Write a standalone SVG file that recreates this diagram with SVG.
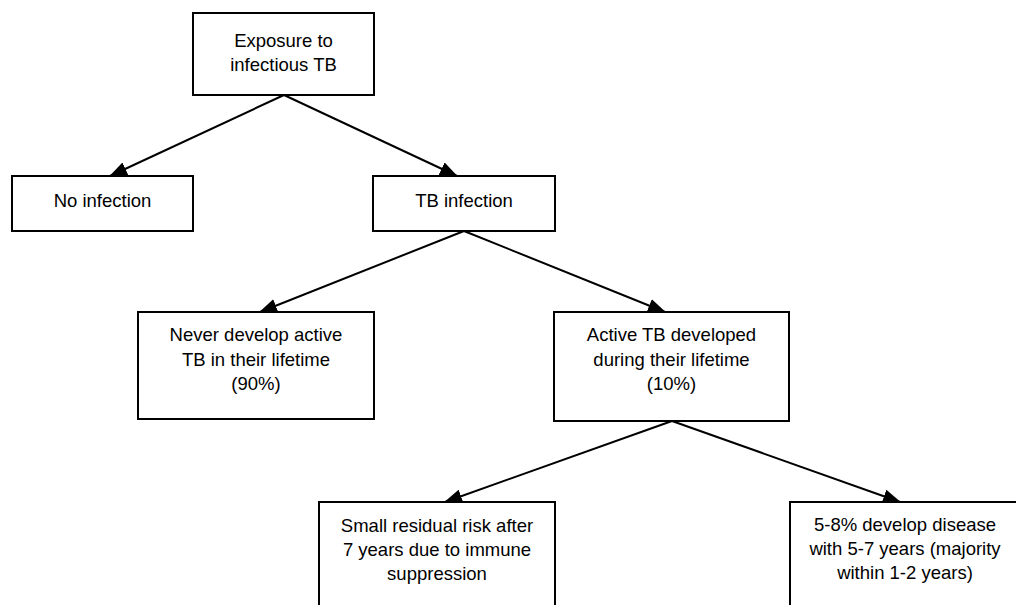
<svg xmlns="http://www.w3.org/2000/svg" width="1016" height="605" viewBox="0 0 1016 605">
<style>
.box{fill:#fff;stroke:#000;stroke-width:2}
.t{font-family:"Liberation Sans",Arial,sans-serif;font-size:18.5px;fill:#000;text-anchor:middle}
.c{stroke:#000;stroke-width:2;fill:none;marker-end:url(#ah)}
</style>
<defs>
<marker id="ah" markerUnits="userSpaceOnUse" markerWidth="18" markerHeight="14" viewBox="0 0 18 14" refX="17" refY="7" orient="auto">
<path d="M0,0 L18,7 L0,14 Z" fill="#000"/>
</marker>
</defs>
<rect width="1016" height="605" fill="#fff"/>
<g id="connectors">
<line class="c" x1="284" y1="95" x2="110" y2="176"/>
<line class="c" x1="284" y1="95" x2="457" y2="176"/>
<line class="c" x1="464" y1="231" x2="260" y2="312"/>
<line class="c" x1="464" y1="231" x2="665" y2="312"/>
<line class="c" x1="672" y1="421" x2="445" y2="502"/>
<line class="c" x1="672" y1="421" x2="900" y2="502"/>
</g>
<g id="exposure">
<rect class="box" x="193" y="13" width="181" height="82"/>
<text class="t" x="283.5" y="47">Exposure to</text>
<text class="t" x="283.5" y="71">infectious TB</text>
</g>
<g id="no-infection">
<rect class="box" x="12" y="176" width="181" height="55"/>
<text class="t" x="102.5" y="207">No infection</text>
</g>
<g id="tb-infection">
<rect class="box" x="373" y="176" width="182" height="55"/>
<text class="t" x="464" y="207">TB infection</text>
</g>
<g id="never-develop">
<rect class="box" x="138" y="312" width="236" height="107"/>
<text class="t" x="256" y="341">Never develop active</text>
<text class="t" x="256" y="366">TB in their lifetime</text>
<text class="t" x="256" y="390">(90%)</text>
</g>
<g id="active-tb">
<rect class="box" x="554" y="312" width="235" height="109"/>
<text class="t" x="671.5" y="341">Active TB developed</text>
<text class="t" x="671.5" y="366">during their lifetime</text>
<text class="t" x="671.5" y="390">(10%)</text>
</g>
<g id="small-residual">
<rect class="box" x="319" y="502" width="236" height="130"/>
<text class="t" x="437" y="532">Small residual risk after</text>
<text class="t" x="437" y="556">7 years due to immune</text>
<text class="t" x="437" y="580">suppression</text>
</g>
<g id="develop-disease">
<rect class="box" x="790" y="502" width="240" height="130"/>
<text class="t" x="905" y="531">5-8% develop disease</text>
<text class="t" x="905" y="555">with 5-7 years (majority</text>
<text class="t" x="905" y="579">within 1-2 years)</text>
</g>
</svg>
